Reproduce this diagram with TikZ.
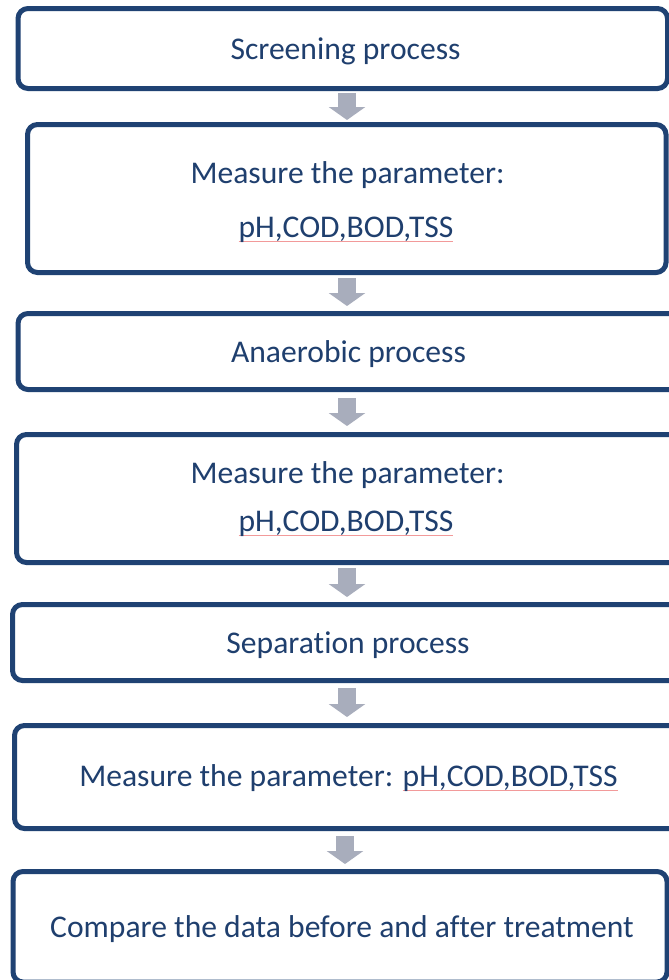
\documentclass[tikz,border=0pt]{standalone}
\usepackage{fontspec}
\setmainfont{Carlito}[Ligatures=NoCommon]
\usetikzlibrary{arrows.meta}

\definecolor{boxblue}{HTML}{1F4273}
\definecolor{textblue}{HTML}{1F3F6E}
\definecolor{arrowgray}{HTML}{A8ADBC}
\definecolor{spell}{HTML}{F29A9A}

% thin pink line under a word, as a spell checker marks it
\newsavebox\spellbox
\newcommand\spellmark[1]{\sbox\spellbox{#1}\rlap{\textcolor{spell}{\rule[-4.5pt]{\wd\spellbox}{0.9pt}}}\usebox\spellbox}

\tikzset{
  stepbox/.style={draw=boxblue, line width=5pt, rounded corners=10pt, fill=white,
    inner sep=0pt, minimum width=#1},
  label/.style={text=textblue, inner sep=0pt, anchor=base,
    font=\fontsize{31.6pt}{38pt}\selectfont},
  flow/.style={draw=arrowgray, line width=18pt,
    -{Triangle[width=36pt 0 0,length=13pt 0 0]}}
}

\begin{document}
\begin{tikzpicture}[x=1pt,y=-1pt]
\useasboundingbox (0,0) rectangle (669,980);
\fill[white] (0,0) rectangle (669,980);
\clip (0,0) rectangle (669,980);

\coordinate (axis) at (347,0);
\coordinate (axisb) at (345,0);

% process boxes
\node[stepbox=649.5pt, minimum height=80pt]  (b1) at (342.75,48.5) {};
\node[stepbox=638.5pt, minimum height=148pt] (b2) at (346.75,198.5) {};
\node[stepbox=669.5pt, minimum height=76pt]  (b3) at (352.75,351.5) {};
\node[stepbox=671pt,   minimum height=128pt] (b4) at (352,498.5) {};
\node[stepbox=675pt,   minimum height=76pt]  (b5) at (350,642.5) {};
\node[stepbox=673pt,   minimum height=103pt] (b6) at (351,777) {};
\node[stepbox=654pt,   minimum height=110.5pt] (b7) at (340,926.75) {};

% texts
\node[label] (t1)  at (345.5,59) {Screening process};
\node[label] (t2a) at (347.5,183) {Measure the parameter:};
\node[label] (t2b) at (346,237) {\spellmark{pH,COD,BOD,TSS}};
\node[label] (t3)  at (348.5,362) {Anaerobic process};
\node[label] (t4a) at (347.5,483) {Measure the parameter:};
\node[label] (t4b) at (346,531) {\spellmark{pH,COD,BOD,TSS}};
\node[label] (t5)  at (348,653) {Separation process};
\node[label] (t6)  at (348.5,786) {Measure the parameter: \spellmark{pH,COD,BOD,TSS}};
\node[label] (t7)  at (342,937) {Compare the data before and after treatment};

% block arrows between the boxes
\draw[flow, shorten <=2pt, shorten >=2pt] (b1.south -| axis) -- (b2.north -| axis);
\draw[flow, shorten <=3pt, shorten >=5pt] (b2.south -| axis) -- (b3.north -| axis);
\draw[flow, shorten <=6pt, shorten >=6pt] (b3.south -| axis) -- (b4.north -| axis);
\draw[flow, shorten <=3pt, shorten >=5pt] (b4.south -| axis) -- (b5.north -| axis);
\draw[flow, shorten <=5pt, shorten >=6pt] (b5.south -| axis) -- (b6.north -| axis);
\draw[flow, shorten <=5pt, shorten >=5pt] (b6.south -| axisb) -- (b7.north -| axisb);
\end{tikzpicture}
\end{document}
